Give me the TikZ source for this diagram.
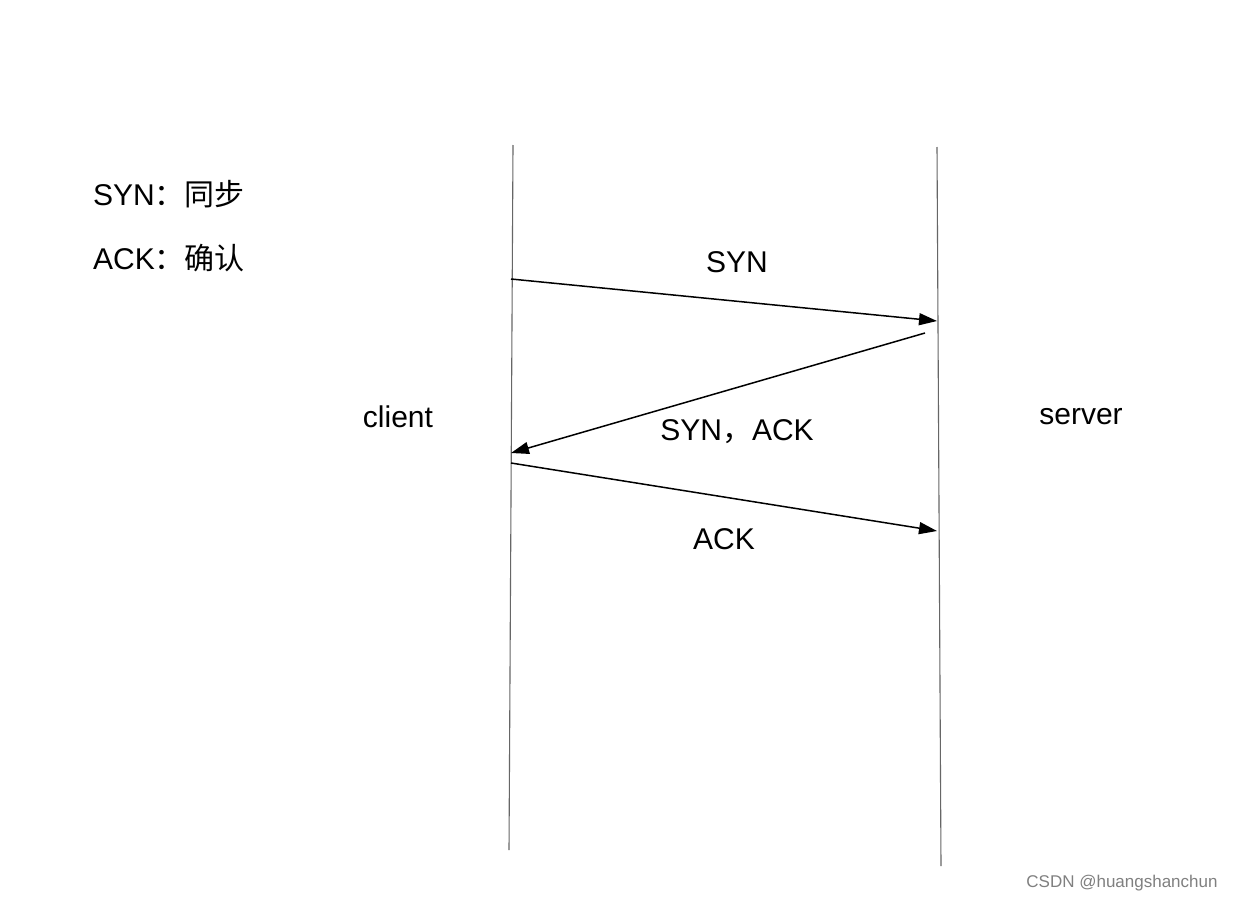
\documentclass[tikz,border=0pt]{standalone}
\usepackage{fontspec}
\setmainfont{Liberation Sans}
\newfontfamily\cjk{Noto Sans CJK SC}
\usetikzlibrary{arrows.meta}
\begin{document}
\begin{tikzpicture}[x=1pt,y=-1pt,
  life/.style={draw=gray!80!black,line width=1.1pt},
  msg/.style={draw=black,line width=1.5pt,-{Triangle[length=18pt,width=12pt]}},
  lbl/.style={font=\fontsize{30}{36}\selectfont,inner sep=0pt}]
\useasboundingbox[fill=white] (0,0) rectangle (1236,902);
\coordinate (ct) at (513,145); \coordinate (cb) at (509,850);
\coordinate (st) at (937,147); \coordinate (sb) at (941,866);
\draw[life] (ct) -- (cb);
\draw[life] (st) -- (sb);
\coordinate (a1) at (511,279); \coordinate (b1) at (937,321);
\coordinate (a2) at (925,333); \coordinate (b2) at (511,453);
\coordinate (a3) at (511,463); \coordinate (b3) at (937,531);
\draw[msg] (a1) -- (b1);
\draw[msg] (a2) -- (b2);
\draw[msg] (a3) -- (b3);
\node[lbl] (l1) at (737,262) {SYN};
\node[lbl] (l2) at (737,432) {SYN{\cjk ，}ACK};
\node[lbl] (l3) at (724,539) {ACK};
\node[lbl] (cl) at (398,417) {client};
\node[lbl] (sv) at (1081,417) {server};
\node[lbl,anchor=west] (k1) at (93,194) {SYN{\cjk ：同步}};
\node[lbl,anchor=west] (k2) at (93,258) {ACK{\cjk ：确认}};
\node[inner sep=0pt,text=gray,font=\fontsize{17}{20}\selectfont] (wm) at (1122,883) {CSDN @huangshanchun};
\end{tikzpicture}
\end{document}
